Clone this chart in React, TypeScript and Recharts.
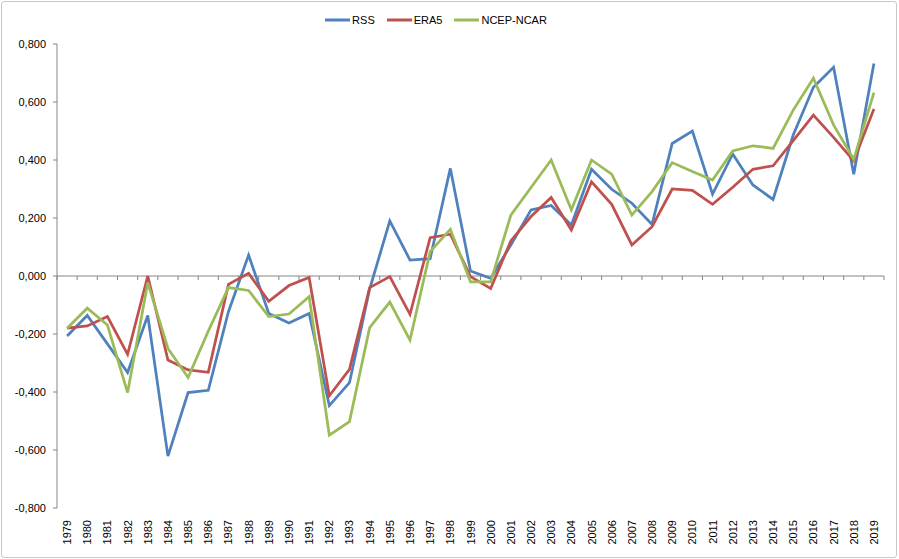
import React from 'react';
import { LineChart, Line, XAxis, YAxis, ReferenceLine, Legend } from 'recharts';

const years = [1979, 1980, 1981, 1982, 1983, 1984, 1985, 1986, 1987, 1988, 1989, 1990, 1991, 1992, 1993, 1994, 1995, 1996, 1997, 1998, 1999, 2000, 2001, 2002, 2003, 2004, 2005, 2006, 2007, 2008, 2009, 2010, 2011, 2012, 2013, 2014, 2015, 2016, 2017, 2018, 2019];

const rss = [-0.207, -0.136, -0.234, -0.333, -0.136, -0.621, -0.402, -0.394, -0.123, 0.072, -0.129, -0.162, -0.129, -0.447, -0.368, -0.045, 0.19, 0.055, 0.06, 0.371, 0.017, -0.008, 0.107, 0.228, 0.243, 0.176, 0.368, 0.299, 0.251, 0.178, 0.457, 0.5, 0.282, 0.421, 0.314, 0.264, 0.486, 0.651, 0.72, 0.351, 0.733];

const era5 = [-0.18, -0.172, -0.14, -0.27, 0.0, -0.29, -0.324, -0.332, -0.029, 0.009, -0.087, -0.033, -0.005, -0.413, -0.322, -0.04, -0.002, -0.132, 0.132, 0.144, -0.002, -0.043, 0.121, 0.205, 0.271, 0.159, 0.325, 0.247, 0.107, 0.17, 0.3, 0.295, 0.247, 0.306, 0.368, 0.38, 0.467, 0.555, 0.478, 0.397, 0.576];

const ncep = [-0.18, -0.111, -0.169, -0.402, -0.023, -0.25, -0.35, -0.19, -0.04, -0.05, -0.14, -0.131, -0.071, -0.549, -0.502, -0.178, -0.09, -0.221, 0.084, 0.161, -0.02, -0.02, 0.21, 0.305, 0.4, 0.228, 0.4, 0.351, 0.21, 0.291, 0.391, 0.36, 0.331, 0.431, 0.449, 0.44, 0.572, 0.682, 0.521, 0.402, 0.632];

const yTicks = [-0.8, -0.6, -0.4, -0.2, 0, 0.2, 0.4, 0.6, 0.8];

const seriesInfo = [
  { key: 'RSS', color: '#4F81BD' },
  { key: 'ERA5', color: '#C0504D' },
  { key: 'NCEP-NCAR', color: '#9BBB59' },
];

const data = years.map((y, i) => ({ year: y, RSS: rss[i], ERA5: era5[i], 'NCEP-NCAR': ncep[i] }));

// category boundaries for tick marks on the zero line
const boundaries = [years[0] - 0.5, ...years.map((y) => y + 0.5)];

const FONT = "'Liberation Sans', Arial, sans-serif";

const fmt = (v: number) => v.toFixed(3).replace('.', ',');

const XTick = (props: any) => {
  const { x, y, payload } = props;
  const ty = y + 10;
  return (
    <text
      x={x}
      y={ty}
      transform={`rotate(-90, ${x}, ${ty})`}
      textAnchor="end"
      dominantBaseline="central"
      fontSize={11}
      fontFamily={FONT}
      fill="#000"
    >
      {payload.value}
    </text>
  );
};

const LegendContent = () => (
  <div
    style={{
      height: 34,
      display: 'flex',
      justifyContent: 'center',
      alignItems: 'flex-start',
      fontFamily: FONT,
      fontSize: 11,
      color: '#000',
    }}
  >
    {seriesInfo.map((s) => (
      <div key={s.key} style={{ display: 'flex', alignItems: 'center', height: 20, marginRight: 12 }}>
        <svg width={25} height={6} style={{ marginRight: 2 }}>
          <line x1={0} y1={3} x2={25} y2={3} stroke={s.color} strokeWidth={3} />
        </svg>
        <span>{s.key}</span>
      </div>
    ))}
  </div>
);

export default function App() {
  return (
    <div style={{ position: 'absolute', left: 0, top: 0, width: 899, height: 559, background: '#fff' }}>
      <style>{`body{margin:0}`}</style>
      <div
        style={{
          position: 'absolute',
          left: 1,
          top: 1,
          width: 894,
          height: 555,
          border: '1px solid #c8c8c8',
          borderRadius: 3,
        }}
      />
      <LineChart
        width={899}
        height={559}
        data={data}
        margin={{ top: 10, right: 15, bottom: 0, left: 0 }}
        style={{ position: 'absolute', left: 0, top: 0 }}
      >
        <Legend verticalAlign="top" align="center" content={<LegendContent />} />
        <XAxis
          dataKey="year"
          type="number"
          domain={[1978.5, 2019.5]}
          ticks={years}
          interval={0}
          axisLine={false}
          tickLine={false}
          tickSize={0}
          height={51}
          tick={<XTick />}
        />
        <YAxis
          domain={[-0.8, 0.8]}
          ticks={yTicks}
          tickFormatter={fmt}
          width={57}
          tickSize={4}
          tickMargin={7}
          axisLine={{ stroke: '#868686' }}
          tickLine={{ stroke: '#868686' }}
          tick={{ fontSize: 11, fontFamily: FONT, fill: '#000' }}
          interval={0}
        />
        <ReferenceLine y={0} stroke="#868686" strokeWidth={1} />
        {boundaries.map((b) => (
          <ReferenceLine
            key={b}
            segment={[{ x: b, y: 0 }, { x: b, y: -0.0138 }]}
            stroke="#868686"
            strokeWidth={1}
          />
        ))}
        {seriesInfo.map((s) => (
          <Line
            key={s.key}
            type="linear"
            dataKey={s.key}
            stroke={s.color}
            strokeWidth={2.75}
            dot={false}
            activeDot={false}
            isAnimationActive={false}
          />
        ))}
      </LineChart>
    </div>
  );
}
